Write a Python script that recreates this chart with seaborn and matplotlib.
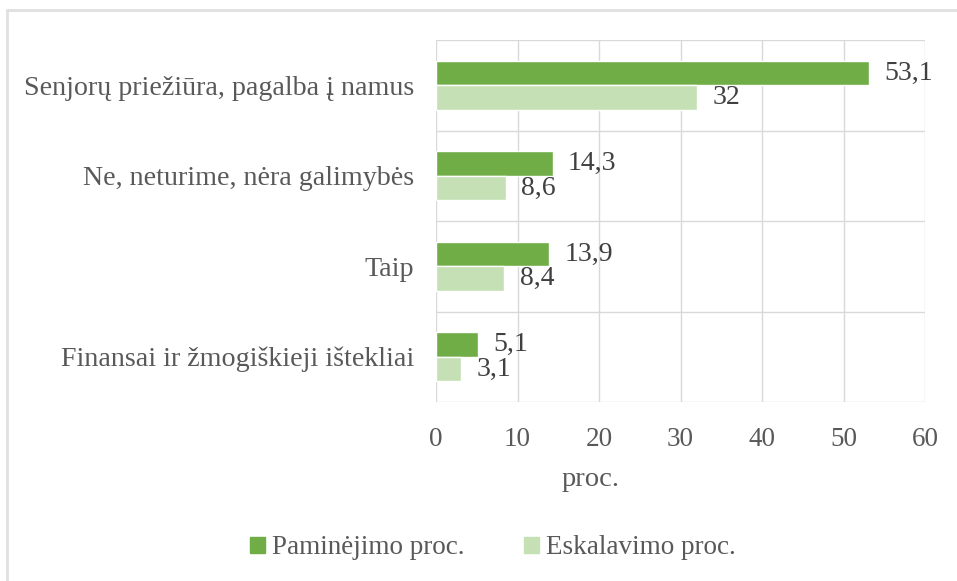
import matplotlib
matplotlib.use("Agg")
import matplotlib.pyplot as plt
from matplotlib.lines import Line2D
import pandas as pd
import seaborn as sns

categories = ["Senjorų priežiūra, pagalba į namus",
              "Ne, neturime, nėra galimybės",
              "Taip",
              "Finansai ir žmogiškieji ištekliai"]
paminejimo = [53.1, 14.3, 13.9, 5.1]
eskalavimo = [32, 8.6, 8.4, 3.1]
series = ["Paminėjimo proc.", "Eskalavimo proc."]

df = pd.DataFrame({
    "category": categories * 2,
    "value": paminejimo + eskalavimo,
    "series": [series[0]] * 4 + [series[1]] * 4,
})

sns.set_theme(style="white")
plt.rcParams["font.family"] = ["Liberation Serif", "DejaVu Serif"]
txt = "#595959"
grid_c = "#D9D9D9"

fig = plt.figure(figsize=(9.57, 5.81), dpi=100)
ax = fig.add_axes([436 / 957, 1 - 402 / 581, 489 / 957, 362 / 581])

sns.barplot(data=df, y="category", x="value", hue="series", orient="h",
            order=categories, hue_order=series,
            palette=["#70AD47", "#C5E0B4"], width=0.54, ax=ax,
            saturation=1, legend=False)

for cont in ax.containers:
    ax.bar_label(cont, labels=[f"{v:g}".replace(".", ",") for v in cont.datavalues],
                 padding=11, fontsize=20, color="#404040")

ax.set_xlim(0, 60)
ax.set_xticks(range(0, 61, 10))
ax.set_ylim(3.5, -0.5)
ax.set_yticks([-0.5, 0.5, 1.5, 2.5, 3.5], minor=True)
ax.grid(axis="x", which="major", color=grid_c, lw=1)
ax.grid(axis="y", which="minor", color=grid_c, lw=1)
ax.set_axisbelow(True)
for s in ax.spines.values():
    s.set_visible(False)

ax.tick_params(axis="x", length=0, pad=18, labelsize=19.5, labelcolor=txt)
ax.tick_params(axis="y", which="both", length=0, pad=16, labelsize=20.2, labelcolor=txt)
ax.set_ylabel("")
ax.set_xlabel("proc.", fontsize=20.5, color=txt)
ax.xaxis.set_label_coords(0.315, -0.18)

handles = [plt.Rectangle((0, 0), 1, 1, color=c) for c in ["#70AD47", "#C5E0B4"]]
fig.legend(handles, series, loc="center", bbox_to_anchor=(0.515, 1 - 548 / 581),
           ncol=2, frameon=False, fontsize=19.5, labelcolor=txt,
           handlelength=0.55, handleheight=0.55, handletextpad=0.25, columnspacing=2.2)

# thin frame around the chart area (top and left edges only visible)
fig.add_artist(Line2D([7 / 957, 1], [1 - 10 / 581] * 2, color="#E0E0E0", lw=2))
fig.add_artist(Line2D([7 / 957] * 2, [0, 1 - 10 / 581], color="#E0E0E0", lw=2))

fig.savefig("out.png", dpi=100)
